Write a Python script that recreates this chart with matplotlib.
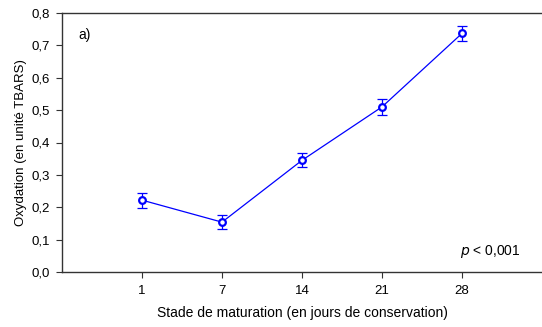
import matplotlib
matplotlib.use("Agg")
import matplotlib.pyplot as plt

# Stade de maturation (jours) vs oxydation TBARS
days = ["1", "7", "14", "21", "28"]
oxydation = [0.222, 0.154, 0.345, 0.510, 0.737]
err = [0.023, 0.022, 0.022, 0.024, 0.023]

plt.rcParams["font.family"] = ["Liberation Sans", "DejaVu Sans"]
plt.rcParams["font.size"] = 9.5

fig = plt.figure(figsize=(5.42, 3.27), dpi=100)
ax = fig.add_axes([62 / 542, 55 / 327, 480 / 542, 259 / 327])

x = list(range(len(days)))
ax.errorbar(x, oxydation, yerr=err, fmt="none", ecolor="#0000ff",
            elinewidth=0.9, capsize=3.6, capthick=0.9)
ax.plot(x, oxydation, color="#0000ff", lw=0.9, marker="o", markersize=4.8,
        markerfacecolor="white", markeredgewidth=1.6)

ax.set_xlim(-1, 5)
ax.set_ylim(0, 0.8)
ax.set_xticks(x)
ax.set_xticklabels(days)
yt = [i / 10 for i in range(9)]
ax.set_yticks(yt)
ax.set_yticklabels([f"{v:.1f}".replace(".", ",") for v in yt])
ax.spines["right"].set_visible(False)
for s in ["left", "top", "bottom"]:
    ax.spines[s].set_linewidth(1.0)
    ax.spines[s].set_color("#333333")
ax.tick_params(direction="out", length=4, width=0.8, colors="#333333", labelcolor="black", pad=5)
ax.tick_params(axis="x", pad=5)

ax.set_xlabel("Stade de maturation (en jours de conservation)", fontsize=10, labelpad=7)
ax.set_ylabel("Oxydation (en unité TBARS)", fontsize=9.5, labelpad=3)
ax.text(0.035, 0.9, "a)", transform=ax.transAxes, fontsize=10)
ax.text(0.83, 0.065, r"$\it{p}$ < 0,001", transform=ax.transAxes, fontsize=10)

fig.savefig("out.png", dpi=100)
